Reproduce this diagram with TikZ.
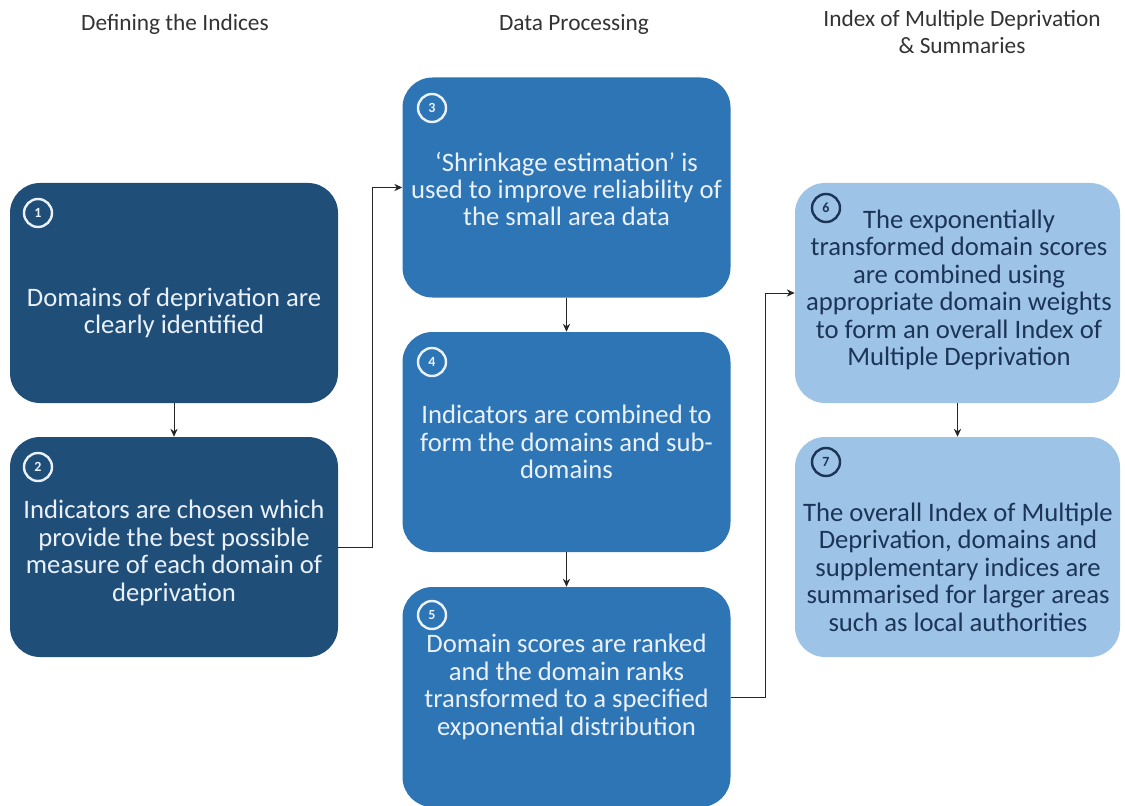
\documentclass[tikz,border=0pt]{standalone}
\usepackage{fontspec}
\setmainfont{Carlito}
\usetikzlibrary{arrows.meta}

\newlength{\px}
\setlength{\px}{0.75pt}

\definecolor{darkstep}{HTML}{1F4E79}
\definecolor{midstep}{HTML}{2E75B6}
\definecolor{lightstep}{HTML}{9DC3E6}
\definecolor{paletext}{HTML}{EAF1FA}
\definecolor{navytext}{HTML}{1C3557}
\definecolor{headtext}{HTML}{333333}

\begin{document}
\begin{tikzpicture}[x=1\px, y=-1\px,
  stagebox/.style={rounded corners=30\px, minimum width=328\px, minimum height=220\px, inner sep=0pt},
  darkbox/.style={stagebox, fill=darkstep},
  midbox/.style={stagebox, fill=midstep},
  lightbox/.style={stagebox, fill=lightstep},
  boxtext/.style={align=center, font=\fontsize{20}{20.6}\selectfont, inner sep=0pt},
  stepnum/.style={circle, draw=#1, text=#1, line width=2.4\px, minimum size=28\px, inner sep=0pt, font=\fontsize{10.5}{10.5}\selectfont\bfseries},
  headline/.style={align=center, text=headtext, font=\fontsize{17.5}{20.3}\selectfont, inner sep=0pt},
  flow/.style={draw=black!85, line width=1\px, -{Stealth[length=6pt, width=5.5pt]}}
]
\useasboundingbox (0,0) rectangle (1125,806);

% column headings
\node[headline, anchor=base] (h1) at (175,31) {Defining the Indices};
\node[headline, anchor=base] (h2) at (574,31) {Data Processing};
\node[headline] (h3) at (962,32) {Index of Multiple Deprivation\\\& Summaries};

% boxes
\node[darkbox] (b1) at (174,293) {};
\node[darkbox] (b2) at (174,547) {};
\node[midbox] (b3) at (566.5,187.5) {};
\node[midbox] (b4) at (566.5,442) {};
\node[midbox] (b5) at (566.5,697) {};
\node[lightbox, minimum width=325\px] (b6) at (957.5,293) {};
\node[lightbox, minimum width=325\px] (b7) at (957.5,547) {};

% numbers
\node[stepnum=paletext] (n1) at (38,213) {1};
\node[stepnum=paletext] (n2) at (38,467) {2};
\node[stepnum=paletext] (n3) at (432,108) {3};
\node[stepnum=paletext] (n4) at (432,362) {4};
\node[stepnum=paletext] (n5) at (432,615) {5};
\node[stepnum=navytext] (n6) at (826,208) {6};
\node[stepnum=navytext] (n7) at (826,462) {7};

% texts
\node[boxtext, text=paletext] (t1) at (174,313) {Domains of deprivation are\\clearly identified};
\node[boxtext, text=paletext] (t2) at (174,553) {Indicators are chosen which\\provide the best possible\\measure of each domain of\\deprivation};
\node[boxtext, text=paletext] (t3) at (566.5,189) {`Shrinkage estimation' is\\used to improve reliability of\\the small area data};
\node[boxtext, text=paletext] (t4) at (566.5,442) {Indicators are combined to\\form the domains and sub-\\domains};
\node[boxtext, text=paletext] (t5) at (566.5,687) {Domain scores are ranked\\and the domain ranks\\transformed to a specified\\exponential distribution};
\node[boxtext, text=navytext] (t6) at (959,290) {The exponentially\\transformed domain scores\\are combined using\\appropriate domain weights\\to form an overall Index of\\Multiple Deprivation};
\node[boxtext, text=navytext] (t7) at (958,567) {The overall Index of Multiple\\Deprivation, domains and\\supplementary indices are\\summarised for larger areas\\such as local authorities};

% connectors
\draw[flow] (b1) -- (b2);
\draw[flow] (b2.east) -- ++(34,0) |- (b3.west);
\draw[flow] (b3) -- (b4);
\draw[flow] (b4) -- (b5);
\draw[flow] (b5.east) -- ++(35,0) |- (b6.west);
\draw[flow] (b6) -- (b7);
\end{tikzpicture}
\end{document}
